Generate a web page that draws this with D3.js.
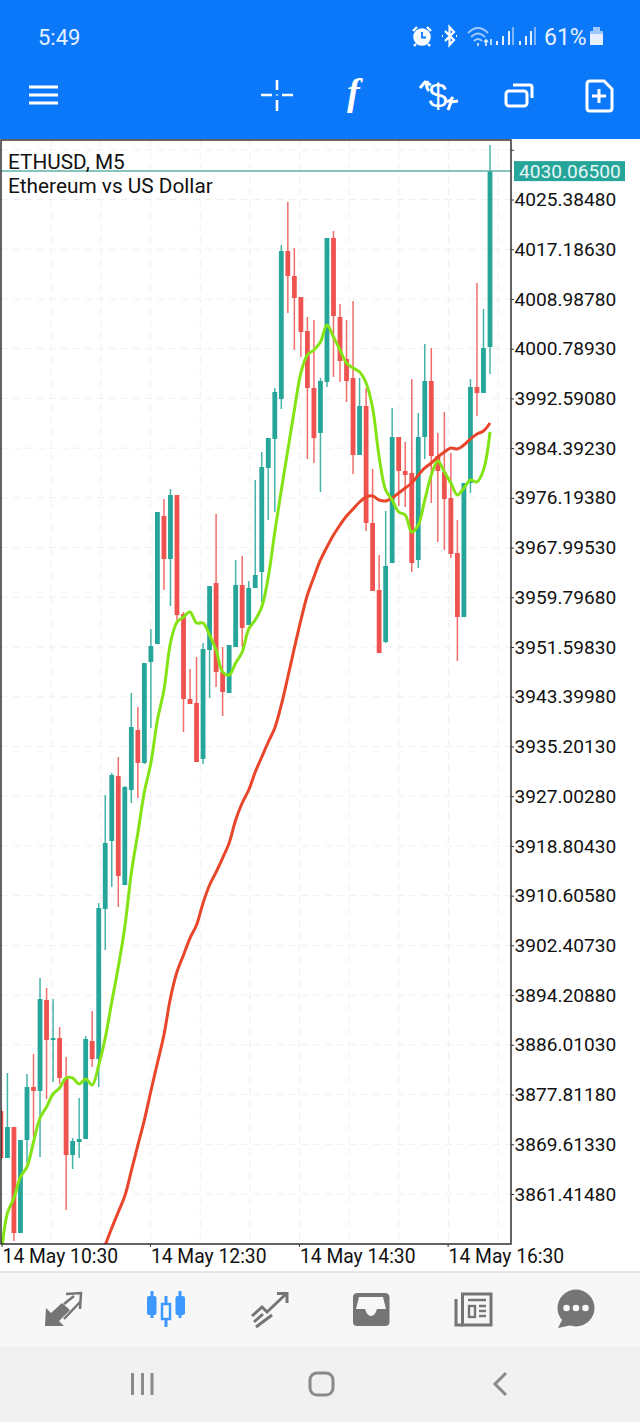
<!DOCTYPE html>
<html>
<head>
<meta charset="utf-8">
<title>ETHUSD, M5</title>
<script src="https://cdn.jsdelivr.net/npm/d3@7"></script>
<style>
  html, body { margin: 0; padding: 0; background: #fff; }
  svg { display: block; }
  text { font-family: Roboto, sans-serif; }
</style>
</head>
<body>
<div id="chart"></div>
<script>
// bar number is the x value: 76 five-minute bars
const opens = [3875.1,3867.35,3872.46,3854.98,3870.32,3879.06,3878.4,3893.4,3886.8,3887.13,3880.54,3867.84,3869.99,3870.48,3886.64,3883.67,3908.4,3919.62,3930.33,3912.36,3928.02,3937.92,3932.48,3949.13,3952.1,3973.2,3966.11,3976.66,3957.04,3943.03,3942.37,3933.14,3951.11,3962.15,3947.48,3944.02,3951.6,3961.83,3955.23,3961.33,3963.97,3981.12,3985.9,3992.49,4016.89,4012.77,4009.31,4003.7,3994.31,3986.89,3995.3,4019.04,4006.01,3999.09,3995.96,3983.26,3991.34,3972.05,3961.0,3952.43,3965.45,3986.23,3980.62,3980.29,3965.95,3986.23,3995.46,3983.09,3980.46,3976.17,3967.1,3956.55,3978.64,3994.47,3993.48,4001.07];
const highs = [3875.6,3881.36,3872.46,3870.32,3881.2,3884.5,3897.03,3895.38,3893.56,3888.95,3884.0,3870.65,3877.24,3887.46,3891.59,3909.39,3927.2,3930.83,3933.47,3928.68,3944.02,3941.71,3948.96,3954.57,3973.86,3976.0,3977.65,3976.66,3957.37,3947.98,3949.95,3952.26,3961.66,3973.53,3951.6,3951.93,3965.95,3966.61,3962.48,3979.14,3983.75,3986.06,3994.31,4017.88,4024.97,4017.39,4009.31,4006.01,4005.52,3995.96,4019.04,4020.19,4008.16,4005.52,4008.65,3995.96,3994.31,3980.95,3966.77,3974.03,3991.01,3986.23,3985.4,3995.79,3990.18,4001.56,4000.9,3986.89,3990.35,3983.59,3972.54,3978.64,3995.79,4011.62,4007.33,4034.37];
const lows = [3867.0,3867.35,3853.66,3854.98,3866.52,3870.81,3867.51,3877.08,3879.88,3879.55,3858.78,3865.54,3867.35,3870.48,3882.35,3879.06,3901.64,3912.03,3908.73,3912.36,3925.88,3926.71,3932.31,3938.25,3952.1,3961.0,3958.36,3956.05,3937.59,3942.2,3932.64,3932.31,3943.19,3945.01,3940.23,3944.02,3951.6,3951.6,3955.23,3961.33,3959.02,3972.54,3973.86,3990.84,4006.67,4000.57,3999.42,3982.6,3981.94,3977.16,3994.47,3996.12,3995.3,3992.0,3980.13,3983.26,3970.73,3960.84,3950.61,3952.26,3965.45,3974.85,3974.69,3963.97,3964.63,3982.6,3975.35,3968.91,3967.6,3966.28,3949.29,3956.55,3976.99,3989.69,3993.48,3996.61];
const closes = [3867.35,3872.46,3854.98,3870.32,3879.06,3878.4,3893.56,3886.8,3887.13,3880.54,3867.84,3870.15,3870.48,3886.97,3883.67,3908.57,3919.29,3930.5,3913.85,3928.52,3938.41,3932.48,3948.96,3951.77,3973.86,3966.11,3976.66,3956.88,3943.03,3942.2,3932.64,3951.27,3961.66,3947.48,3944.18,3951.93,3961.83,3954.74,3961.33,3963.47,3981.28,3986.06,3993.65,4016.89,4012.77,4009.15,4003.54,3994.31,3986.06,3995.46,4019.04,4006.18,3998.76,3995.46,3983.26,3991.34,3972.05,3960.84,3950.61,3964.96,3986.23,3980.62,3979.96,3965.45,3986.23,3995.46,3983.09,3980.62,3976.0,3966.94,3956.55,3978.64,3994.47,3993.48,4000.9,4030.065];

// fast moving average, one value per bar
const fastMa = [3850.86,3858.28,3860.75,3864.22,3865.87,3869.99,3873.94,3875.76,3877.9,3878.89,3880.54,3880.54,3879.55,3880.38,3879.39,3882.68,3887.13,3893.07,3898.84,3905.44,3914.34,3920.93,3927.7,3932.48,3939.57,3944.51,3952.26,3955.72,3956.55,3957.37,3955.56,3955.56,3953.58,3951.11,3947.48,3946.99,3948.96,3950.78,3954.57,3956.05,3958.2,3963.14,3970.56,3977.49,3984.08,3990.68,3996.78,3999.75,4000.57,4001.89,4004.69,4002.72,4000.57,3998.43,3997.6,3996.94,3995.13,3991.01,3982.93,3977.49,3975.84,3973.86,3973.37,3970.56,3971.72,3975.84,3979.96,3982.27,3980.46,3978.64,3976.66,3977.82,3979.14,3978.81,3980.79,3987.05];
// slow moving average, starts at bar 16 (earlier values are below the window)
const slowMaStart = 16;
const slowMa = [3853.0,3855.81,3858.44,3861.08,3865.21,3869.49,3873.61,3878.4,3883.01,3887.63,3893.73,3898.02,3900.82,3903.62,3905.77,3909.39,3912.36,3914.5,3916.81,3919.29,3923.08,3925.88,3928.02,3930.99,3933.47,3935.94,3938.25,3942.04,3946.66,3951.44,3956.05,3960.18,3963.14,3965.95,3968.09,3970.07,3971.72,3973.2,3974.36,3975.51,3976.33,3976.5,3975.84,3975.68,3976.17,3976.99,3977.82,3978.64,3979.96,3981.12,3981.94,3982.93,3983.75,3984.41,3984.25,3984.91,3985.9,3986.72,3987.22,3988.54];

const priceTicks = [4033.5833,4025.3848,4017.1863,4008.9878,4000.7893,3992.5908,3984.3923,3976.1938,3967.9953,3959.7968,3951.5983,3943.3998,3935.2013,3927.0028,3918.8043,3910.6058,3902.4073,3894.2088,3886.0103,3877.8118,3869.6133,3861.4148];
const lastPrice = 4030.065;

const timeTickBars = [0.1, 22.85, 45.7, 68.5];
const timeTickLabels = ["14 May 10:30", "14 May 12:30", "14 May 14:30", "14 May 16:30"];
const gridBarStep = 7.617;

const width = 640;
const height = 1422;
const plot = { left: 1, right: 511, top: 140, bottom: 1244 };
const upColor = "#26a69a";
const downColor = "#ef5350";
const iconGrey = "#757575";

const svg = d3.select("#chart").append("svg").attr("width", width).attr("height", height);

const xScale = d3.scaleLinear().domain([0, 75]).range([0.9, 490]);
const yScale = d3.scaleLinear().domain([3861.4148, 4025.3848]).range([1194, 199.5]);

svg.append("clipPath").attr("id", "plot-clip").append("rect")
  .attr("x", plot.left).attr("y", plot.top)
  .attr("width", plot.right - plot.left).attr("height", plot.bottom - plot.top);

// Grid
const grid = svg.append("g").attr("stroke", "#f0f0f0").attr("stroke-dasharray", "7,5").attr("stroke-width", 1);
grid.selectAll(".h").data(priceTicks).enter().append("line")
  .attr("x1", plot.left).attr("x2", plot.right)
  .attr("y1", (d) => yScale(d)).attr("y2", (d) => yScale(d));
grid.selectAll(".v").data(d3.range(1, 11)).enter().append("line")
  .attr("y1", plot.top).attr("y2", plot.bottom)
  .attr("x1", (k) => xScale(0.1 + k * gridBarStep)).attr("x2", (k) => xScale(0.1 + k * gridBarStep));

const chart = svg.append("g").attr("clip-path", "url(#plot-clip)");

// Candles
const bars = d3.range(opens.length);
const candleColor = (i) => (closes[i] >= opens[i] ? upColor : downColor);

chart.append("g").selectAll("line").data(bars).enter().append("line")
  .attr("x1", (i) => xScale(i)).attr("x2", (i) => xScale(i))
  .attr("y1", (i) => yScale(highs[i])).attr("y2", (i) => yScale(lows[i]))
  .attr("stroke", candleColor).attr("stroke-width", 1.5).attr("stroke-opacity", 0.85);

chart.append("g").selectAll("rect").data(bars).enter().append("rect")
  .attr("x", (i) => xScale(i) - 2.4).attr("width", 4.8)
  .attr("y", (i) => yScale(Math.max(opens[i], closes[i])))
  .attr("height", (i) => Math.max(1.5, Math.abs(yScale(opens[i]) - yScale(closes[i]))))
  .attr("fill", candleColor);

// Current price line
chart.append("line")
  .attr("x1", plot.left).attr("x2", plot.right)
  .attr("y1", yScale(lastPrice)).attr("y2", yScale(lastPrice))
  .attr("stroke", "#5fb3a8").attr("stroke-width", 1.5);

// Moving averages
const maLine = d3.line().curve(d3.curveCatmullRom).x((d) => xScale(d[0])).y((d) => yScale(d[1]));
chart.append("path")
  .attr("d", maLine(slowMa.map((v, i) => [i + slowMaStart, v])))
  .attr("fill", "none").attr("stroke", "#e8452a").attr("stroke-width", 3).attr("stroke-linejoin", "round");
chart.append("path")
  .attr("d", maLine(fastMa.map((v, i) => [i, v])))
  .attr("fill", "none").attr("stroke", "#84e314").attr("stroke-width", 3).attr("stroke-linejoin", "round");

// Frame
svg.append("rect")
  .attr("x", plot.left).attr("y", plot.top)
  .attr("width", plot.right - plot.left).attr("height", plot.bottom - plot.top)
  .attr("fill", "none").attr("stroke", "#222").attr("stroke-width", 1.4);

// Axes
const yAxis = d3.axisRight(yScale)
  .tickValues(priceTicks)
  .tickSize(3)
  .tickPadding(0.5)
  .tickFormat((d) => (d > 4030 ? "" : d.toFixed(5)));
const yAxisG = svg.append("g").attr("transform", `translate(${plot.right},0)`).call(yAxis);
yAxisG.select(".domain").remove();
yAxisG.selectAll("text").attr("font-size", 19.1).attr("fill", "#111").style("font-family", "Roboto, sans-serif");
yAxisG.selectAll("line").attr("stroke", "#333");

const xAxis = d3.axisBottom(xScale)
  .tickValues(timeTickBars)
  .tickSize(3)
  .tickPadding(2)
  .tickFormat((d, i) => timeTickLabels[i]);
const xAxisG = svg.append("g").attr("transform", `translate(0,${plot.bottom})`).call(xAxis);
xAxisG.select(".domain").remove();
xAxisG.selectAll("text")
  .attr("text-anchor", "start").attr("dx", 0.5).attr("font-size", 19.3).attr("fill", "#111")
  .style("font-family", "Roboto, sans-serif");
xAxisG.selectAll("line").attr("stroke", "#333");

// Current price label
svg.append("rect")
  .attr("x", 514).attr("y", yScale(lastPrice) - 10).attr("width", 111).attr("height", 20).attr("fill", upColor);
svg.append("text")
  .attr("x", 519).attr("y", yScale(lastPrice) + 6.5)
  .attr("font-size", 19.1).attr("fill", "#e8f6f4")
  .text(lastPrice.toFixed(5));

// Symbol captions
svg.append("text").attr("x", 8).attr("y", 169).attr("font-size", 20.8).attr("fill", "#111").text("ETHUSD, M5");
svg.append("text").attr("x", 8).attr("y", 193).attr("font-size", 20.8).attr("fill", "#111").text("Ethereum vs US Dollar");

// Phone chrome: top bar
const topBar = svg.append("g");
topBar.append("rect").attr("width", width).attr("height", 139).attr("fill", "#0b78fa");
topBar.append("text").attr("x", 38).attr("y", 45).attr("font-size", 22).attr("fill", "#e6f0ff").text("5:49");
topBar.append("text").attr("x", 544).attr("y", 45).attr("font-size", 23).attr("fill", "#e6f0ff").text("61%");

// alarm
topBar.append("circle").attr("cx", 422).attr("cy", 37).attr("r", 7.5).attr("fill", "#f4f8ff").attr("stroke", "#fff").attr("stroke-width", 2.5);
topBar.append("path").attr("d", "M422 32V37.5H426").attr("fill", "none").attr("stroke", "#0b78fa").attr("stroke-width", 1.8);
topBar.append("path").attr("d", "M413 31L417 27M431 31L427 27M416 44L414 46M428 44L430 46")
  .attr("fill", "none").attr("stroke", "#fff").attr("stroke-width", 2.4);
// bluetooth
topBar.append("path").attr("d", "M445 31L454 40L449.5 45V27L454 32L445 41M442 36h1M456 36h1")
  .attr("fill", "none").attr("stroke", "#fff").attr("stroke-width", 2.2);
// wifi
topBar.append("path").attr("d", "M468 33Q478 23 488 33M471 37Q478 30 485 37M474 41Q478 37 482 41")
  .attr("fill", "none").attr("stroke", "#9fc8ff").attr("stroke-width", 1.8);
topBar.append("path").attr("d", "M478 43v3M486 46v-6M484 42l2-2l2 2M491 39v6")
  .attr("fill", "none").attr("stroke", "#e6f0ff").attr("stroke-width", 1.6);
// signal bars
[[497, 41], [503, 36], [509, 31], [513, 27], [520, 41], [526, 36], [531, 31], [535, 27]].forEach(([x, y], i) => {
  topBar.append("line").attr("x1", x).attr("x2", x).attr("y1", y).attr("y2", 45)
    .attr("stroke", i === 3 || i === 7 ? "#7fb5fb" : "#e6f0ff").attr("stroke-width", 2);
});
// battery
topBar.append("path").attr("d", "M590 31h3v-4h7v4h3v14h-13z").attr("fill", "#9fc8ff");
topBar.append("rect").attr("x", 590).attr("y", 34).attr("width", 13).attr("height", 11).attr("fill", "#e6f0ff");

// toolbar icons
topBar.append("path").attr("d", "M29 87H58M29 95H58M29 103H58").attr("stroke", "#fff").attr("stroke-width", 3.2).attr("fill", "none");
topBar.append("path").attr("d", "M261 95H272M282 95H293M277 80V90M277 100V111M277 94.5V95.5")
  .attr("stroke", "#fff").attr("stroke-width", 2.6).attr("fill", "none");
topBar.append("text").attr("x", 347).attr("y", 105).attr("font-size", 38).attr("font-style", "italic").attr("font-weight", 700).attr("fill", "#fff")
  .style("font-family", "'Liberation Serif', serif").text("f");
topBar.append("text").attr("x", 428.5).attr("y", 107).attr("font-size", 34).attr("fill", "#fff")
  .style("font-family", "'Liberation Sans', sans-serif").text("$");
topBar.append("path").attr("d", "M429 91Q425 87 428 81M420 88L425 82L431 85M447 101Q450 102 453 97M448 110L451 102L458 101")
  .attr("fill", "none").attr("stroke", "#fff").attr("stroke-width", 3);
topBar.append("rect").attr("x", 506).attr("y", 91).attr("width", 21).attr("height", 15).attr("rx", 3)
  .attr("fill", "none").attr("stroke", "#fff").attr("stroke-width", 3);
topBar.append("path").attr("d", "M513 85H530Q532 85 532 87V98").attr("fill", "none").attr("stroke", "#fff").attr("stroke-width", 3);
topBar.append("path").attr("d", "M590 81H604L612 89V108Q612 111 609 111H590Q587 111 587 108V84Q587 81 590 81Z")
  .attr("fill", "none").attr("stroke", "#fff").attr("stroke-width", 3);
topBar.append("path").attr("d", "M592 96H606M599 89V103").attr("stroke", "#fff").attr("stroke-width", 3);

// Phone chrome: bottom tab bar
const tabs = svg.append("g");
tabs.append("rect").attr("y", 1271).attr("width", width).attr("height", 2).attr("fill", "#e5e5e5");
tabs.append("rect").attr("y", 1273).attr("width", width).attr("height", 74).attr("fill", "#f7f7f7");
tabs.append("rect").attr("y", 1347).attr("width", width).attr("height", 75).attr("fill", "#f1f1f1");

// quotes
tabs.append("path").attr("d", "M45 1326L46 1308L51 1313L62 1303L70 1310L59 1321L64 1326Z").attr("fill", iconGrey);
tabs.append("path").attr("d", "M66 1294L81 1293L80 1309M64 1304L74 1296M64 1319L80 1302")
  .attr("fill", "none").attr("stroke", iconGrey).attr("stroke-width", 2.5);

// charts (active tab)
const activeBlue = "#3d98ff";
tabs.append("path").attr("d", "M152 1291V1318M180 1291V1318M166 1296V1327").attr("stroke", activeBlue).attr("stroke-width", 3);
tabs.append("rect").attr("x", 147).attr("y", 1296).attr("width", 9.5).attr("height", 19).attr("rx", 2).attr("fill", activeBlue);
tabs.append("rect").attr("x", 175.5).attr("y", 1296).attr("width", 9.5).attr("height", 19).attr("rx", 2).attr("fill", activeBlue);
tabs.append("rect").attr("x", 162).attr("y", 1304).attr("width", 8).attr("height", 15).attr("fill", "#f7f7f7").attr("stroke", activeBlue).attr("stroke-width", 2.5);

// trade
tabs.append("path").attr("d", "M252 1316L262 1307L267 1312L286 1294M277 1293.5H287V1303M254 1322L263 1314M256 1327L272 1315")
  .attr("fill", "none").attr("stroke", iconGrey).attr("stroke-width", 3);

// inbox
tabs.append("path").attr("d", "M358 1293H385Q389 1293 389.5 1297V1322Q389.5 1326 385 1326H357Q353 1326 353 1322V1297Q353 1293 358 1293Z").attr("fill", iconGrey);
tabs.append("path").attr("d", "M359 1297H383L386 1309H377Q375 1316 371 1316Q367 1316 365 1309H356Z").attr("fill", "#f7f7f7");

// news
tabs.append("rect").attr("x", 462.5).attr("y", 1294).attr("width", 28.5).attr("height", 31).attr("fill", "none").attr("stroke", iconGrey).attr("stroke-width", 3);
tabs.append("path").attr("d", "M456 1299V1325H463").attr("fill", "none").attr("stroke", iconGrey).attr("stroke-width", 3);
tabs.append("path").attr("d", "M468 1300H486M479 1306H486M479 1311H486M479 1316H486").attr("stroke", iconGrey).attr("stroke-width", 2.4);
tabs.append("rect").attr("x", 469).attr("y", 1306).attr("width", 6).attr("height", 11).attr("fill", "none").attr("stroke", iconGrey).attr("stroke-width", 2.4);

// messages
tabs.append("circle").attr("cx", 576).attr("cy", 1308).attr("r", 18.5).attr("fill", iconGrey);
tabs.append("path").attr("d", "M563 1318L558 1328L572 1325Z").attr("fill", iconGrey);
[566.5, 576, 585.5].forEach((cx) => {
  tabs.append("circle").attr("cx", cx).attr("cy", 1308).attr("r", 3.3).attr("fill", "#f7f7f7");
});

// Android nav buttons
const navGrey = "#8a8a8a";
tabs.append("path").attr("d", "M132.5 1373V1395M142.5 1373V1395M152 1373V1395").attr("stroke", navGrey).attr("stroke-width", 3);
tabs.append("rect").attr("x", 310).attr("y", 1373).attr("width", 23).attr("height", 22).attr("rx", 7)
  .attr("fill", "none").attr("stroke", navGrey).attr("stroke-width", 3);
tabs.append("path").attr("d", "M506 1373L495 1384L506 1395").attr("fill", "none").attr("stroke", navGrey).attr("stroke-width", 3);
</script>
</body>
</html>
